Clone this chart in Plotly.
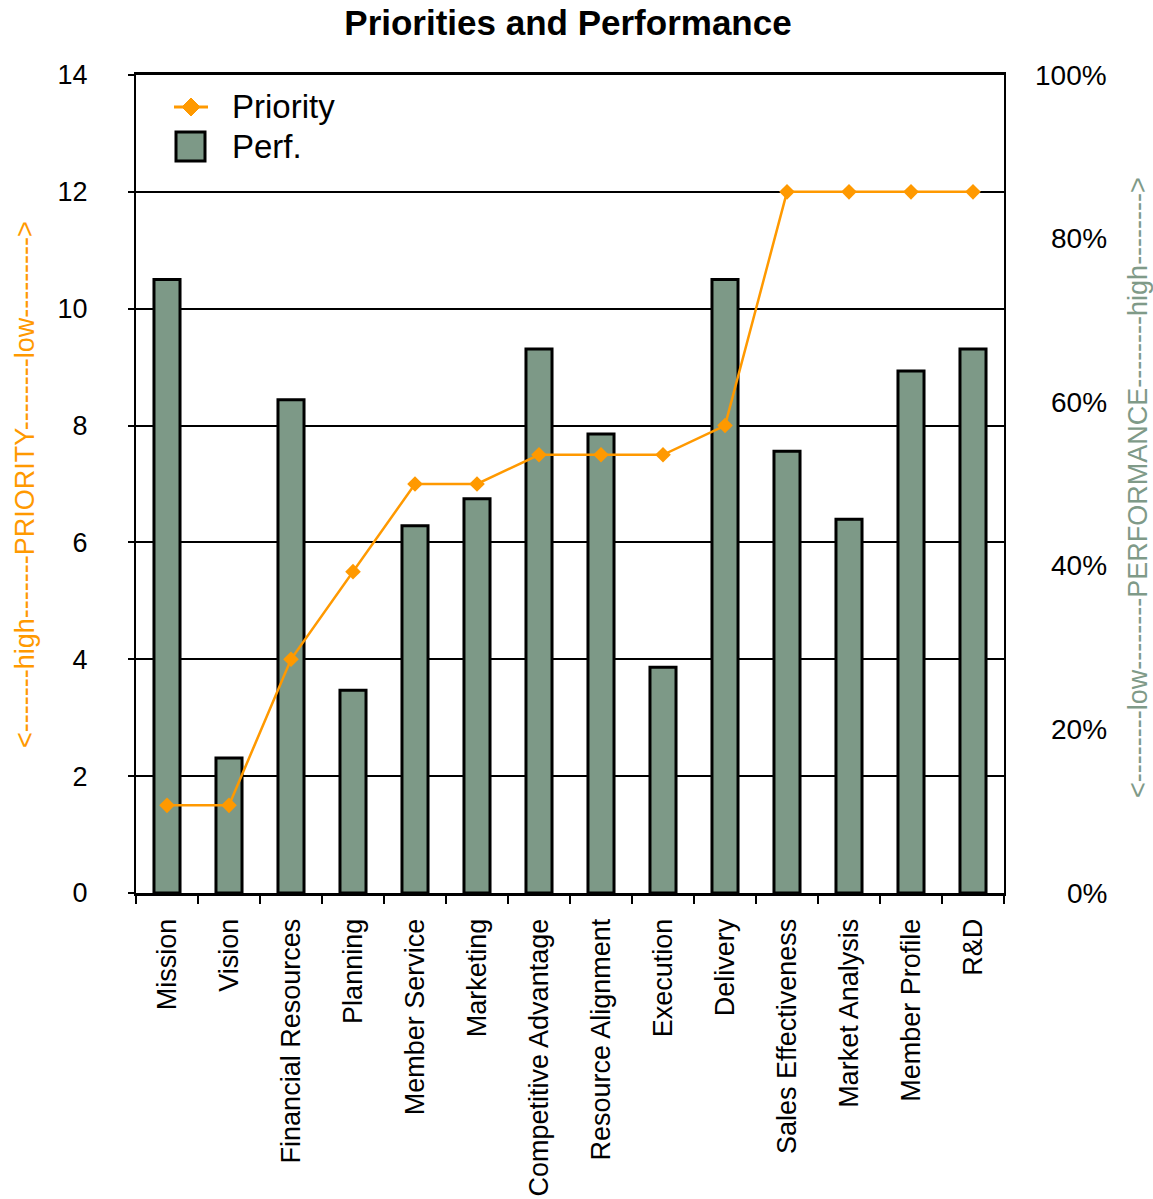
import plotly.graph_objects as go

categories = ["Mission", "Vision", "Financial Resources", "Planning", "Member Service",
              "Marketing", "Competitive Advantage", "Resource Alignment", "Execution",
              "Delivery", "Sales Effectiveness", "Market Analysis", "Member Profile", "R&D"]
priority = [1.5, 1.5, 4.0, 5.5, 7.0, 7.0, 7.5, 7.5, 7.5, 8.0, 12, 12, 12, 12]
performance = [0.75, 0.165, 0.603, 0.248, 0.449, 0.482, 0.665, 0.561, 0.276, 0.75,
               0.54, 0.457, 0.638, 0.665]
pct_ticks = [0, 0.2, 0.4, 0.6, 0.8, 1.0]
pct_labels = ["0%", "20%", "40%", "60%", "80%", "100%"]
prio_ticks = [0, 2, 4, 6, 8, 10, 12, 14]

ORANGE = "#FF9900"
SAGE = "#7D9987"
SAGE_TXT = "#7F9A88"
FONT = "Liberation Sans, Arial, Helvetica, sans-serif"

W, H = 1153, 1199
L, R, T, B = 136, 1004, 75, 893


def xp(px):
    return (px - L) / (R - L)


def yp(py):
    return (B - py) / (B - T)


fig = go.Figure()
fig.add_trace(go.Bar(
    x=categories, y=performance, yaxis="y", width=0.42,
    marker=dict(color=SAGE, line=dict(color="black", width=3)),
    name="Perf.", showlegend=False))
fig.add_trace(go.Scatter(
    x=categories, y=priority, yaxis="y2", mode="lines+markers",
    line=dict(color=ORANGE, width=2.5),
    marker=dict(symbol="diamond", size=12, color=ORANGE),
    name="Priority", showlegend=False))

annotations = []
for v, lab in zip(pct_ticks, pct_labels):
    annotations.append(dict(x=xp(1109), xref="paper", y=v, yref="y", text=lab,
                            showarrow=False, xanchor="right", yanchor="middle",
                            font=dict(size=28, color="black", family=FONT)))

annotations.append(dict(
    x=xp(25), xref="paper", y=yp(485), yref="paper",
    text="<-------high-------PRIORITY--------low--------->",
    textangle=-90, showarrow=False, xanchor="center", yanchor="middle",
    font=dict(size=27, color=ORANGE, family=FONT)))
annotations.append(dict(
    x=xp(1138), xref="paper", y=yp(488), yref="paper",
    text="<--------low--------PERFORMANCE--------high-------->",
    textangle=-90, showarrow=False, xanchor="center", yanchor="middle",
    font=dict(size=27, color=SAGE_TXT, family=FONT)))

# legend
annotations.append(dict(x=xp(230), xref="paper", y=yp(107), yref="paper", text="Priority",
                        showarrow=False, xanchor="left", yanchor="middle",
                        font=dict(size=33, color="black", family=FONT)))
annotations.append(dict(x=xp(230), xref="paper", y=yp(147), yref="paper", text="Perf.",
                        showarrow=False, xanchor="left", yanchor="middle",
                        font=dict(size=33, color="black", family=FONT)))

shapes = [
    dict(type="line", xref="paper", yref="paper", x0=xp(174), x1=xp(208), y0=yp(107), y1=yp(107),
         line=dict(color=ORANGE, width=3)),
    dict(type="path", xref="paper", yref="paper",
         path=f"M {xp(191)} {yp(98)} L {xp(200)} {yp(107)} L {xp(191)} {yp(116)} L {xp(182)} {yp(107)} Z",
         fillcolor=ORANGE, line=dict(color=ORANGE, width=1)),
    dict(type="rect", xref="paper", yref="paper", x0=xp(176), x1=xp(205), y0=yp(132), y1=yp(161),
         fillcolor=SAGE, line=dict(color="black", width=3)),
]

fig.update_layout(
    width=W, height=H,
    margin=dict(l=L, r=W - R, t=T, b=H - B, pad=0, autoexpand=False),
    paper_bgcolor="white", plot_bgcolor="white",
    font=dict(family=FONT, color="black"),
    title=dict(text="<b>Priorities and Performance</b>", x=xp(568), xref="paper",
               y=1 - 23 / H, yref="container", xanchor="center", yanchor="middle",
               font=dict(size=35, color="black", family=FONT)),
    showlegend=False,
    xaxis=dict(
        type="category", range=[-0.5, len(categories) - 0.5], autorange=False,
        automargin=False,
        showline=True, linecolor="black", linewidth=3, mirror=True,
        ticks="outside", tickson="boundaries", ticklen=8, tickwidth=2, tickcolor="black",
        tickangle=-90, tickfont=dict(size=27, family=FONT, color="black"),
        ticklabelstandoff=12, showgrid=False),
    yaxis=dict(
        side="right", range=[0, 1], showgrid=False, zeroline=False, automargin=False,
        showline=True, linecolor="black", linewidth=2,
        showticklabels=False, ticks="", tickvals=pct_ticks),
    yaxis2=dict(
        side="left", overlaying="y", range=[0, 14], tickvals=prio_ticks, automargin=False,
        showgrid=True, gridcolor="black", gridwidth=2, zeroline=False,
        showline=True, linecolor="black", linewidth=2,
        ticks="outside", ticklen=6, tickwidth=2, tickcolor="black",
        tickfont=dict(size=27, family=FONT, color="black"),
        ticklabelstandoff=35),
    annotations=annotations,
    shapes=shapes,
)

fig.write_html("out.html")
